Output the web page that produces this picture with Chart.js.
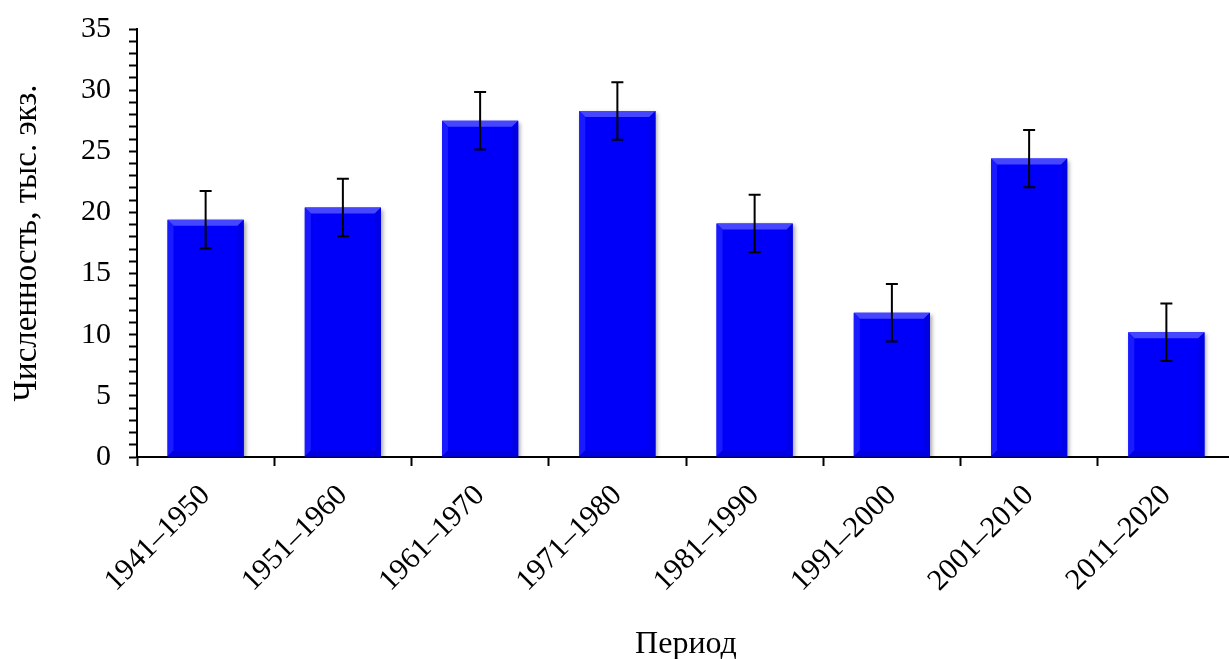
<!DOCTYPE html>
<html>
<head>
<meta charset="utf-8">
<script src="https://cdn.jsdelivr.net/npm/chart.js@4/dist/chart.umd.min.js"></script>
<style>
  html, body { margin: 0; padding: 0; background: #fff; overflow: hidden; }
  #wrap { width: 1240px; height: 659px; }
</style>
</head>
<body>
<div id="wrap"><canvas id="chart" width="1240" height="659"></canvas></div>
<script>
const periods = ['1941–1950', '1951–1960', '1961–1970', '1971–1980', '1981–1990', '1991–2000', '2001–2010', '2011–2020'];
const counts = [19.4, 20.4, 27.5, 28.3, 19.1, 11.8, 24.4, 10.2];
const errors = [2.35, 2.35, 2.35, 2.35, 2.35, 2.35, 2.35, 2.35];

const FONT = 'Liberation Serif, Times New Roman, serif';

// shadow + bevel look of the bars
const barLook = {
    id: 'barLook',
    beforeDatasetsDraw(chart) {
        const ctx = chart.ctx;
        ctx.save();
        ctx.shadowColor = 'rgba(0,0,0,0.35)';
        ctx.shadowBlur = 4;
        ctx.shadowOffsetX = 2;
        ctx.shadowOffsetY = 2;
    },
    afterDatasetsDraw(chart) {
        const ctx = chart.ctx;
        ctx.restore();
        const meta = chart.getDatasetMeta(0);
        ctx.save();
        meta.data.forEach(bar => {
            const x0 = bar.x - bar.width / 2, x1 = bar.x + bar.width / 2;
            const top = bar.y, bot = bar.base, b = 6;
            ctx.fillStyle = '#4646ff';
            ctx.beginPath();
            ctx.moveTo(x0, top); ctx.lineTo(x1, top);
            ctx.lineTo(x1 - b, top + b); ctx.lineTo(x0 + b, top + b);
            ctx.closePath(); ctx.fill();
            ctx.fillStyle = '#1a1aff';
            ctx.beginPath();
            ctx.moveTo(x0, top); ctx.lineTo(x0 + b, top + b);
            ctx.lineTo(x0 + b, bot - b); ctx.lineTo(x0, bot);
            ctx.closePath(); ctx.fill();
            ctx.fillStyle = '#0000e6';
            ctx.beginPath();
            ctx.moveTo(x1, top); ctx.lineTo(x1 - b, top + b);
            ctx.lineTo(x1 - b, bot - b); ctx.lineTo(x1, bot);
            ctx.closePath(); ctx.fill();
            ctx.fillStyle = '#0000e0';
            ctx.beginPath();
            ctx.moveTo(x0, bot); ctx.lineTo(x0 + b, bot - b);
            ctx.lineTo(x1 - b, bot - b); ctx.lineTo(x1, bot);
            ctx.closePath(); ctx.fill();
        });
        // error bars
        const y = chart.scales.y;
        ctx.strokeStyle = '#000';
        ctx.lineWidth = 2;
        meta.data.forEach((bar, i) => {
            const hi = y.getPixelForValue(counts[i] + errors[i]);
            const lo = y.getPixelForValue(counts[i] - errors[i]);
            ctx.beginPath();
            ctx.moveTo(bar.x, hi); ctx.lineTo(bar.x, lo);
            ctx.moveTo(bar.x - 6, hi); ctx.lineTo(bar.x + 6, hi);
            ctx.moveTo(bar.x - 6, lo); ctx.lineTo(bar.x + 6, lo);
            ctx.stroke();
        });
        ctx.restore();
    }
};

new Chart(document.getElementById('chart').getContext('2d'), {
    type: 'bar',
    data: {
        labels: periods,
        datasets: [{
            data: counts,
            backgroundColor: '#0000fa',
            borderWidth: 0,
            barPercentage: 0.555,
            categoryPercentage: 1
        }]
    },
    options: {
        responsive: false,
        animation: false,
        layout: { padding: { top: 29, right: 5, left: 0, bottom: 0 } },
        plugins: {
            legend: { display: false },
            tooltip: { enabled: false }
        },
        scales: {
            x: {
                afterFit: s => { s.height = 202; s.paddingLeft = 0; s.paddingRight = 0; },
                grid: {
                    offset: true,
                    drawOnChartArea: false,
                    color: '#000',
                    tickLength: 9,
                    tickWidth: 2
                },
                border: { color: '#000', width: 2 },
                ticks: {
                    color: '#000',
                    font: { family: FONT, size: 30 },
                    maxRotation: 45,
                    minRotation: 45,
                    padding: 12
                },
                title: {
                    display: true,
                    text: 'Период',
                    color: '#000',
                    font: { family: FONT, size: 32, lineHeight: 0.9 },
                    padding: { top: 0, bottom: 0 }
                }
            },
            y: {
                min: 0,
                max: 35,
                afterFit: s => { s.width = 137; s.paddingTop = 0; s.paddingBottom = 0; },
                grid: {
                    drawOnChartArea: false,
                    color: '#000',
                    tickLength: 8,
                    tickWidth: 2
                },
                border: { color: '#000', width: 2 },
                ticks: {
                    stepSize: 1,
                    autoSkip: false,
                    color: '#000',
                    font: { family: FONT, size: 30 },
                    padding: 18,
                    callback: v => (v % 5 === 0 ? v : '')
                },
                title: {
                    display: true,
                    text: 'Численность, тыс. экз.',
                    color: '#000',
                    font: { family: FONT, size: 33 },
                    padding: { top: 8, bottom: 0 }
                }
            }
        }
    },
    plugins: [barLook]
});
</script>
</body>
</html>
